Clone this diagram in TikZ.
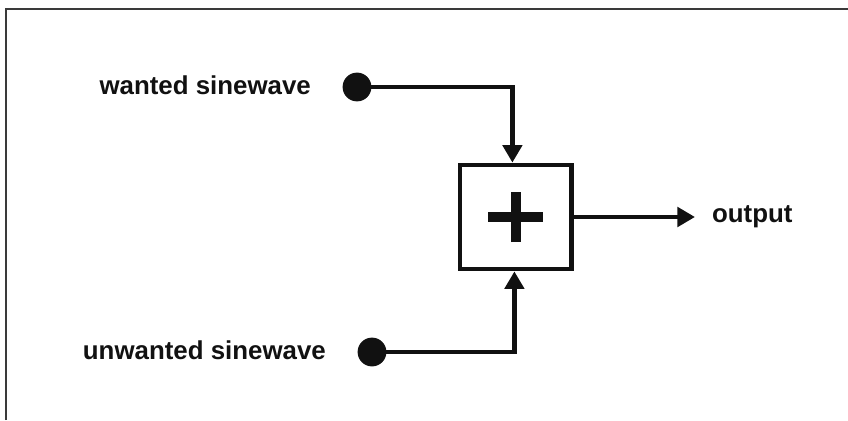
\documentclass[tikz,border=0pt]{standalone}
\usepackage{fontspec}
\setmainfont{Liberation Sans}
\usepackage{xcolor}
\definecolor{sgink}{HTML}{111111}
\definecolor{sgframe}{HTML}{3A3A3A}
\usepackage{tikz}
\usetikzlibrary{arrows.meta,positioning}
\tikzset{
  sgdot/.style   ={circle, fill=sgink, draw=none, minimum size=0.72cm, inner sep=0pt},
  sgsum/.style   ={rectangle, draw=sgink, line width=3.4pt, fill=white,
                   minimum width=2.775cm, minimum height=2.6cm, inner sep=0pt},
  sgwire/.style  ={line width=3.3pt, draw=sgink},
  sgarrow/.style ={sgwire, -{Triangle[length=0.44cm,width=0.48cm]}},
  sgplus/.style  ={line width=7.2pt, draw=sgink},
  sglbl/.style   ={font=\fontsize{18.4}{22}\selectfont\bfseries, text=sgink, inner sep=0pt},
}

\begin{document}
\begin{tikzpicture}
  \useasboundingbox (0,0) rectangle (21.2,10.5);
  \draw[sgframe, line width=1.5pt] (0.15,0) -- (0.15,10.275) -- (21.2,10.275);
  % summing block
  \node[sgsum] (sum) at (12.89,5.075) {};
  \draw[sgplus] ([xshift=-0.69cm]sum.center) -- ([xshift=0.69cm]sum.center);
  \draw[sgplus] ([yshift=-0.63cm]sum.center) -- ([yshift=0.63cm]sum.center);
  % inputs
  \node[sgdot] (wanted) at (8.925,8.325) {};
  \node[sglbl, left=0.78cm of wanted, yshift=0.05cm] (wantedlbl) {wanted sinewave};
  \node[sgdot] (unwanted) at (9.3,1.7) {};
  \node[sglbl, left=0.78cm of unwanted, yshift=0.05cm] (unwantedlbl) {unwanted sinewave};
  \draw[sgarrow] (wanted.center) -| ([xshift=-0.08cm]sum.north);
  \draw[sgarrow] (unwanted.center) -| ([xshift=-0.03cm]sum.south);
  % output
  \coordinate (outend) at (17.375,5.075);
  \node[sglbl, right=0.42cm of outend] (outlbl) {output};
  \draw[sgarrow] (sum.east) -- (outend);
\end{tikzpicture}
\end{document}
